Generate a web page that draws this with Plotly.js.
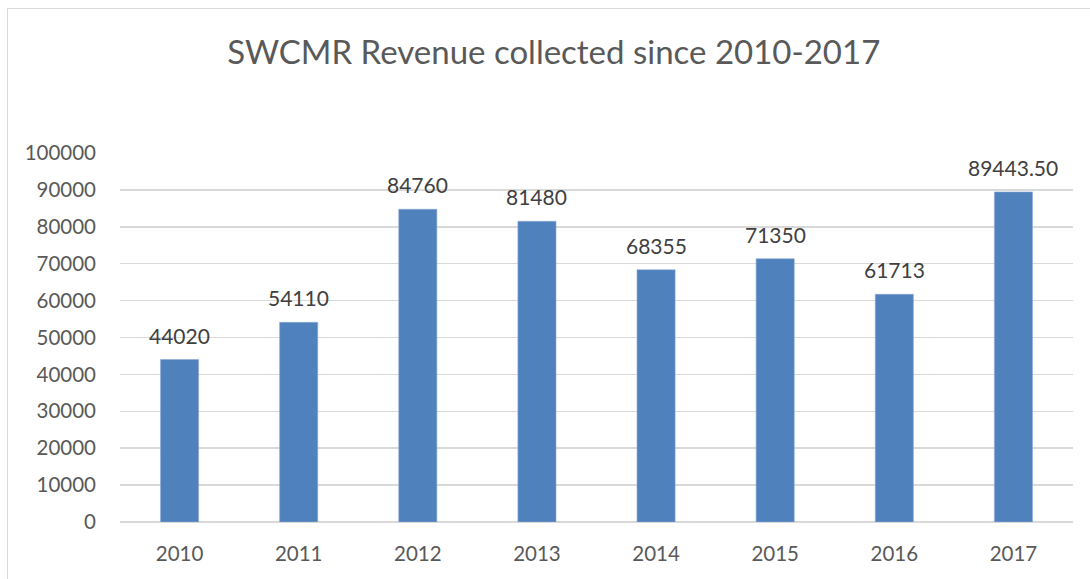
<!DOCTYPE html>
<html>
<head>
<meta charset="utf-8">
<script src="https://cdn.plot.ly/plotly-3.0.1.min.js"></script>
<style>
html,body{margin:0;padding:0;background:#fff;}
#wrap{position:relative;width:1090px;height:579px;}
#chart{position:absolute;left:0;top:0;width:1090px;height:579px;}
#frame{position:absolute;left:7px;top:8px;right:0;bottom:0;border-left:1.5px solid #d9d9d9;border-top:1.5px solid #d9d9d9;pointer-events:none;}
</style>
</head>
<body>
<div id="wrap"><div id="chart"></div><div id="frame"></div></div>
<script>
const years = ['2010','2011','2012','2013','2014','2015','2016','2017'];
const revenue = [44020, 54110, 84760, 81480, 68355, 71350, 61713, 89443.5];
const valueLabels = ['44020','54110','84760','81480','68355','71350','61713','89443.50'];
const yTicks = [0,10000,20000,30000,40000,50000,60000,70000,80000,90000,100000];

const font = 'Lato, "Liberation Sans", sans-serif';

const trace = {
  type: 'bar',
  x: years,
  y: revenue,
  marker: {color: '#4f81bd', line: {color: '#8eaad6', width: 0.6}},
  width: 0.32,
  hoverinfo: 'x+y'
};

const annotations = years.map((yr, i) => ({
  x: i, y: revenue[i], xref: 'x', yref: 'y',
  text: valueLabels[i], showarrow: false,
  yanchor: 'bottom', yshift: 10,
  font: {family: font, size: 21, color: '#404040'}
}));

const layout = {
  width: 1090, height: 579,
  margin: {l: 120, r: 17, t: 153, b: 57},
  paper_bgcolor: '#ffffff', plot_bgcolor: '#ffffff',
  title: {text: 'SWCMR Revenue collected since 2010-2017', x: 0.508, xanchor: 'center', y: 0.91, yanchor: 'middle',
          font: {family: font, size: 33, color: '#595959'}},
  xaxis: {type: 'category', range: [-0.5, 7.5], autorange: false, showgrid: false, showline: false, zeroline: false, ticks: '',
          tickfont: {family: font, size: 20.5, color: '#595959'}, ticklabelstandoff: 17},
  yaxis: {range: [0, 100000], autorange: false, tickvals: yTicks, ticktext: yTicks.map(String),
          showgrid: true, gridcolor: '#d9d9d9', gridwidth: 1.5, zeroline: true, zerolinecolor: '#d9d9d9', zerolinewidth: 1.5,
          showline: false, ticks: '', ticklabelstandoff: 23,
          tickfont: {family: font, size: 20.5, color: '#595959'}},
  annotations: annotations,
  showlegend: false
};

Plotly.newPlot('chart', [trace], layout, {displayModeBar: false, staticPlot: true});
</script>
</body>
</html>
